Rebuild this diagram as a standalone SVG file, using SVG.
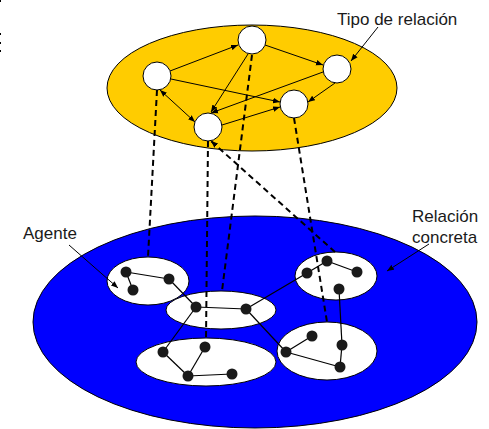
<svg xmlns="http://www.w3.org/2000/svg" width="489" height="429" viewBox="0 0 489 429">
<style>
.txt{font-family:"Liberation Sans",Arial,sans-serif;font-size:17px;fill:#1a1a1a}
.arr{stroke:#000;stroke-width:1;fill:none;marker-end:url(#ah)}
.ln{stroke:#000;stroke-width:1.2;fill:none}
.dash{stroke:#000;stroke-width:2;stroke-dasharray:6,4;fill:none}
.node{fill:#fff;stroke:#000;stroke-width:1}
.dot{fill:#1a1a1a}
.grp{fill:#fff;stroke:#000;stroke-width:1}
</style>
<defs>
<marker id="ah" viewBox="0 0 10 10" refX="10" refY="5" markerWidth="7" markerHeight="7" orient="auto" markerUnits="userSpaceOnUse">
<path d="M0,1 L10,5 L0,9 Z" fill="#000"/>
</marker>
<marker id="ahs" viewBox="0 0 10 10" refX="10" refY="5" markerWidth="7" markerHeight="7" orient="auto-start-reverse" markerUnits="userSpaceOnUse">
<path d="M0,1 L10,5 L0,9 Z" fill="#000"/>
</marker>
</defs>
<rect x="0" y="0" width="489" height="429" fill="#fff"/>
<g id="marks" fill="#000">
<rect x="0" y="0" width="1" height="2"/>
<rect x="0" y="33" width="1" height="2"/>
<rect x="0" y="42" width="1" height="2"/>
<rect x="0" y="50" width="1" height="2"/>
</g>
<g id="tipo-ellipse"><ellipse cx="252" cy="88" rx="145" ry="63" fill="#FFCC00" stroke="#000" stroke-width="1"/></g>
<g id="concreta-ellipse"><ellipse cx="255" cy="322" rx="222" ry="106" fill="#0000FF" stroke="#000" stroke-width="1"/></g>
<g id="agent1"><ellipse class="grp" cx="148" cy="281" rx="41" ry="24"/></g>
<g id="agent2"><ellipse class="grp" cx="221" cy="310" rx="55" ry="19"/></g>
<g id="agent3"><ellipse class="grp" cx="206" cy="362" rx="70" ry="24"/></g>
<g id="agent4"><ellipse class="grp" cx="336" cy="276" rx="41" ry="24"/></g>
<g id="agent5"><ellipse class="grp" cx="327" cy="351" rx="50" ry="29"/></g>
<g id="connectors">
<line class="arr" x1="170" y1="71" x2="238" y2="45"/>
<line class="arr" x1="265" y1="45" x2="323" y2="65"/>
<line class="arr" x1="171" y1="79" x2="280" y2="102"/>
<line class="arr" x1="160" y1="90" x2="195" y2="122" marker-start="url(#ahs)" marker-end="url(#ahs)"/>
<line class="arr" x1="248" y1="54" x2="211" y2="112"/>
<line class="arr" x1="323" y1="72" x2="211" y2="113"/>
<line class="arr" x1="222" y1="125" x2="280" y2="107"/>
<line class="arr" x1="335" y1="83" x2="308" y2="102"/>
<line class="arr" x1="378" y1="27" x2="351" y2="61"/>
<line class="arr" x1="69" y1="245" x2="118" y2="288"/>
<line class="arr" x1="429" y1="244" x2="387" y2="271"/>
<g id="concrete-links">
<line class="ln" x1="126" y1="272" x2="169" y2="279"/>
<line class="ln" x1="126" y1="272" x2="133" y2="290"/>
<line class="ln" x1="169" y1="279" x2="196" y2="307"/>
<line class="ln" x1="196" y1="307" x2="246" y2="309"/>
<line class="ln" x1="246" y1="309" x2="307" y2="273"/>
<line class="ln" x1="246" y1="309" x2="286" y2="352"/>
<line class="ln" x1="196" y1="307" x2="163" y2="352"/>
<line class="ln" x1="163" y1="352" x2="188" y2="376"/>
<line class="ln" x1="188" y1="376" x2="205" y2="347"/>
<line class="ln" x1="188" y1="376" x2="232" y2="374"/>
<line class="ln" x1="307" y1="273" x2="327" y2="261"/>
<line class="ln" x1="327" y1="261" x2="357" y2="272"/>
<line class="ln" x1="339" y1="289" x2="342" y2="345"/>
<line class="ln" x1="286" y1="352" x2="312" y2="336"/>
<line class="ln" x1="286" y1="352" x2="340" y2="367"/>
<line class="ln" x1="342" y1="345" x2="340" y2="367"/>
</g>
</g>
<g id="nodeA"><circle class="node" cx="157" cy="76" r="14"/></g>
<g id="nodeB"><circle class="node" cx="252" cy="40" r="14"/></g>
<g id="nodeC"><circle class="node" cx="337" cy="69" r="14"/></g>
<g id="nodeD"><circle class="node" cx="294" cy="104" r="14"/></g>
<g id="nodeE"><circle class="node" cx="208" cy="127" r="14"/></g>
<g id="dots">
<circle class="dot" cx="126" cy="272" r="5.5"/>
<circle class="dot" cx="169" cy="279" r="5.5"/>
<circle class="dot" cx="133" cy="290" r="5.5"/>
<circle class="dot" cx="196" cy="307" r="5.5"/>
<circle class="dot" cx="246" cy="309" r="5.5"/>
<circle class="dot" cx="163" cy="352" r="5.5"/>
<circle class="dot" cx="205" cy="347" r="5.5"/>
<circle class="dot" cx="188" cy="376" r="5.5"/>
<circle class="dot" cx="232" cy="374" r="5.5"/>
<circle class="dot" cx="307" cy="273" r="5.5"/>
<circle class="dot" cx="327" cy="261" r="5.5"/>
<circle class="dot" cx="357" cy="272" r="5.5"/>
<circle class="dot" cx="339" cy="289" r="5.5"/>
<circle class="dot" cx="286" cy="352" r="5.5"/>
<circle class="dot" cx="312" cy="336" r="5.5"/>
<circle class="dot" cx="342" cy="345" r="5.5"/>
<circle class="dot" cx="340" cy="367" r="5.5"/>
</g>
<g id="mappings">
<line class="dash" x1="157" y1="90" x2="148" y2="257"/>
<line class="dash" x1="208" y1="141" x2="206" y2="340"/>
<line class="dash" x1="252" y1="55" x2="222" y2="291"/>
<line class="dash" x1="335" y1="252" x2="211" y2="141" marker-end="url(#ah)"/>
<line class="dash" x1="294" y1="118" x2="327" y2="322"/>
</g>
<g id="labels">
<text class="txt" x="337" y="25">Tipo de relación</text>
<text class="txt" x="23" y="239">Agente</text>
<text class="txt" x="412" y="222">Relación</text>
<text class="txt" x="412" y="243">concreta</text>
</g>
</svg>
